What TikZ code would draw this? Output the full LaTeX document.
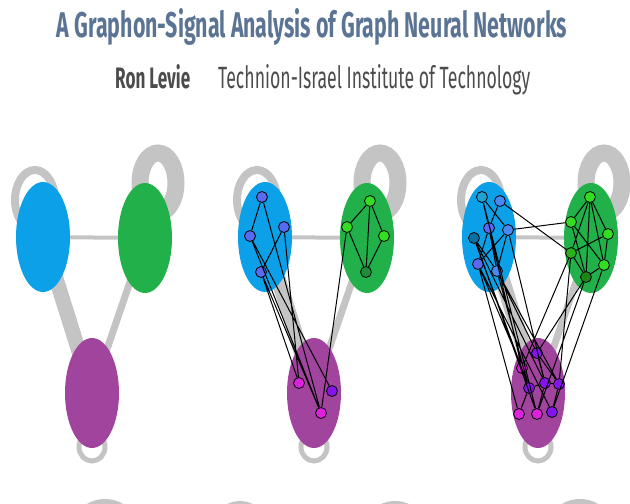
\documentclass[tikz,border=0pt]{standalone}
\usepackage{fontspec}
\setmainfont{Fira Sans}
\usetikzlibrary{shapes.geometric}
\definecolor{tblue}{HTML}{5B7494}
\definecolor{cblue}{HTML}{0BA0E8}
\definecolor{cgreen}{HTML}{22B04A}
\definecolor{cpurple}{HTML}{A0449E}
\definecolor{eg}{HTML}{C4C4C4}
\definecolor{nb}{HTML}{5A6AF0}
\definecolor{ng}{HTML}{33DD22}
\definecolor{np}{HTML}{DD22DD}
\tikzset{
 blob/.style={ellipse, minimum width=54pt, minimum height=110pt, inner sep=0pt},
 vx/.style={circle, draw=black, line width=0.8pt, minimum size=11pt, inner sep=0pt},
 ge/.style={draw=eg},
 le/.style={black, line width=1pt},
 ttl/.style={inner sep=0pt, anchor=base}
}
\newcommand{\bggraph}{%
 \draw[eg, line width=8pt] (35,200) ellipse (20pt and 30pt);
 \draw[eg, line width=17pt] (158,183) ellipse (18pt and 30pt);
 \draw[eg, line width=5pt] (92,447) ellipse (13pt and 14pt);
 \node[blob, fill=cblue] (B) at (43,237) {};
 \node[blob, fill=cgreen] (G) at (145,238) {};
 \node[blob, fill=cpurple] (P) at (92,393) {};
 \begin{pgfonlayer}{bg}
 \draw[eg, line width=4pt] (B) -- (G);
 \draw[eg, line width=15pt] (B.center) -- (P.center);
 \draw[eg, line width=7pt] (G.center) -- (P.center);
 \end{pgfonlayer}
}
\pgfdeclarelayer{bg}
\pgfsetlayers{bg,main}
\begin{document}
\begin{tikzpicture}[x=1pt,y=-1pt]
\useasboundingbox (0,0) rectangle (630,504);
\node[ttl, text=tblue] (title) at (312,37) {\resizebox{510pt}{29pt}{\bfseries A Graphon-Signal Analysis of Graph Neural Networks}};
\node[ttl, text=black!70, anchor=base west] (author) at (115,88) {\resizebox{75pt}{24pt}{\bfseries Ron Levie}};
\node[ttl, text=black!70, anchor=base west] (inst) at (218,88) {\resizebox{312pt}{24pt}{Technion-Israel Institute of Technology}};
% bottom partial shapes
\draw[eg, line width=12pt] (105,535) circle (30pt);
\draw[eg, line width=8pt] (240,530) circle (25pt);
\draw[eg, line width=12pt] (395,535) circle (28pt);
\draw[eg, line width=12pt] (580,535) circle (30pt);
% graph 1
\begin{scope}\bggraph\end{scope}
% graph 2
\begin{scope}[xshift=222pt]\bggraph
 \node[vx, fill=nb] (b1) at (40,197) {};
 \node[vx, fill=nb] (b2) at (28,236) {};
 \node[vx, fill=nb] (b3) at (62,227) {};
 \node[vx, fill=nb] (b4) at (39,272) {};
 \node[vx, fill=ng] (g1) at (148,201) {};
 \node[vx, fill=ng] (g2) at (125,227) {};
 \node[vx, fill=ng] (g3) at (162,236) {};
 \node[vx, fill=cgreen!80!black] (g4) at (144,272) {};
 \node[vx, fill=np] (p1) at (77,383) {};
 \node[vx, fill=np!60!blue] (p2) at (110,391) {};
 \node[vx, fill=np] (p3) at (99,413) {};
 \draw[le] (b1)--(b2) (b3)--(b4) (b1)--(p3) (b2)--(p2) (b2)--(p3) (b4)--(p1) (b4)--(p3) (b3)--(p1)
   (g2)--(g1) (g1)--(g3) (g1)--(g4) (g2)--(g4) (g3)--(g4) (g2)--(p3);
\end{scope}
% graph 3
\begin{scope}[xshift=446pt]\bggraph
 \node[vx, fill=cyan!70!teal] (c1) at (36,197) {};
 \node[vx, fill=nb!80!cyan] (c2) at (54,201) {};
 \node[vx, fill=nb] (c3) at (43,228) {};
 \node[vx, fill=nb!80!cyan] (c4) at (62,230) {};
 \node[vx, fill=cblue!70!black] (c5) at (28,238) {};
 \node[vx, fill=nb] (c6) at (32,264) {};
 \node[vx, fill=nb!80!cyan] (c7) at (51,271) {};
 \node[vx, fill=ng] (h1) at (144,197) {};
 \node[vx, fill=ng] (h2) at (125,222) {};
 \node[vx, fill=ng] (h3) at (162,234) {};
 \node[vx, fill=ng!80!black] (h4) at (125,253) {};
 \node[vx, fill=ng] (h5) at (158,265) {};
 \node[vx, fill=ng!60!black] (h6) at (140,277) {};
 \node[vx, fill=np!60!blue] (q1) at (91,353) {};
 \node[vx, fill=np] (q2) at (76,368) {};
 \node[vx, fill=np!60!blue] (q3) at (99,383) {};
 \node[vx, fill=np!60!blue] (q4) at (113,384) {};
 \node[vx, fill=np!60!blue] (q5) at (83,388) {};
 \node[vx, fill=np] (q6) at (73,414) {};
 \node[vx, fill=np] (q7) at (91,414) {};
 \node[vx, fill=np!60!blue] (q8) at (106,412) {};
 \draw[le] (c1)--(c3) (c1)--(c4) (c2)--(c3) (c2)--(h4) (c4)--(h2) (c3)--(c6) (c4)--(c6) (c5)--(c7) (c3)--(c7) (c4)--(c7)
   (h1)--(h2) (h1)--(h3) (h1)--(h4) (h1)--(h6) (h2)--(h5) (h2)--(h6) (h4)--(h3) (h4)--(h6) (h3)--(h5) (h5)--(h6) (h1)--(h5)
   (q1)--(q3) (q2)--(q5) (q5)--(q3) (q3)--(q4) (q5)--(q6) (q3)--(q7) (q4)--(q8) (q1)--(q4)
   (c5)--(q3) (c5)--(q7) (c6)--(q6) (c6)--(q2) (c7)--(q1) (c7)--(q5) (c6)--(q8) (c3)--(q2) (c4)--(q3) (c7)--(q4) (c5)--(q5) (c1)--(q7)
   (h4)--(q2) (h6)--(q1) (h6)--(q7) (h5)--(q8) (h4)--(q4);
\end{scope}
\end{tikzpicture}
\end{document}
